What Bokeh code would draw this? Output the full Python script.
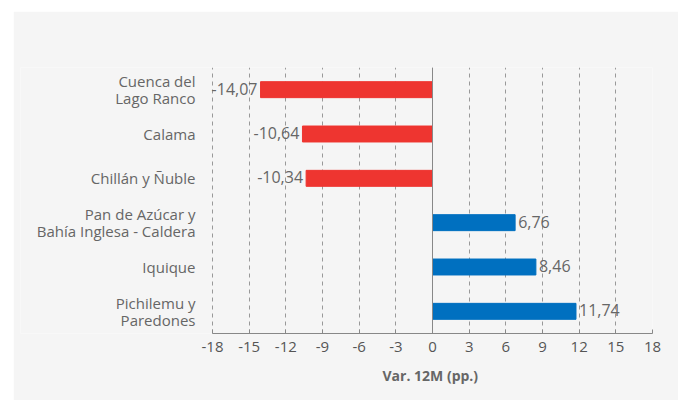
from bokeh.plotting import figure
from bokeh.models import ColumnDataSource, FactorRange, Span, Spacer, FixedTicker, LabelSet, Title
from bokeh.core.properties import value
from bokeh.layouts import row, column
from bokeh.embed import file_html
from bokeh.resources import INLINE

categories = ["Cuenca del\nLago Ranco", "Calama", "Chillán y Ñuble",
              "Pan de Azúcar y\nBahía Inglesa - Caldera", "Iquique", "Pichilemu y\nParedones"]
values = [-14.07, -10.64, -10.34, 6.76, 8.46, 11.74]
value_labels = ["-14,07", "-10,64", "-10,34", "6,76", "8,46", "11,74"]
x_ticks = [-18, -15, -12, -9, -6, -3, 0, 3, 6, 9, 12, 15, 18]
x_tick_labels = ["-18", "-15", "-12", "-9", "-6", "-3", "0", "3", "6", "9", "12", "15", "18"]
x_title = "Var. 12M (pp.)"

RED = "#ee3530"
BLUE = "#0070c0"
BG = "#f5f5f5"
FONT = "Open Sans"
LINE_H = 16.5

X_MIN, X_MAX = -18, 18
PX_PER_UNIT = 440 / (X_MAX - X_MIN)
FRAME_W = 632
x_start = X_MAX - FRAME_W / PX_PER_UNIT   # room on the left for category labels

colors = [RED if v < 0 else BLUE for v in values]
src = ColumnDataSource(dict(
    cat=categories, val=values, lab=value_labels, color=colors,
    lx=[v - 0.25 if v < 0 else v + 0.25 for v in values],
    align=["right" if v < 0 else "left" for v in values],
))

# one entry per text line of each category label, so every line is right-aligned
line_cat, line_txt, line_off = [], [], []
for c in categories:
    parts = c.split("\n")
    n = len(parts)
    for i, t in enumerate(parts):
        line_cat.append(c)
        line_txt.append(t)
        line_off.append(((n - 1) / 2 - i) * LINE_H)
cat_src = ColumnDataSource(dict(cat=line_cat, txt=line_txt, off=line_off,
                                x=[X_MIN - 17 / PX_PER_UNIT] * len(line_cat)))

factors = list(reversed(categories))
p = figure(width=665, height=389, output_backend="svg", toolbar_location=None,
           x_range=(x_start, X_MAX), y_range=FactorRange(factors=factors),
           background_fill_color=BG, border_fill_color=BG, outline_line_color=None,
           min_border_left=7, min_border_right=26, min_border_top=56, min_border_bottom=67)

p.hbar(y="cat", left=0, right="val", height=0.36, color="color", source=src)

p.add_layout(LabelSet(x="lx", y="cat", text="lab", source=src, text_align="align",
                      text_baseline="middle", text_font=value(FONT), text_font_size="16px",
                      text_color="#666666", y_offset=1))

p.add_layout(LabelSet(x="x", y="cat", text="txt", source=cat_src, y_offset="off",
                      text_align="right", text_baseline="middle", text_font=value(FONT),
                      text_font_size="15px", text_color="#666666"))

p.add_layout(Span(location=0, dimension="height", line_color="#888888", line_width=1))

p.xgrid.ticker = FixedTicker(ticks=x_ticks)
p.xgrid.bounds = (X_MIN, X_MAX)
p.xgrid.grid_line_color = "#999999"
p.xgrid.grid_line_dash = "4 4"
p.xgrid.grid_line_width = 1
p.ygrid.grid_line_color = None

p.xaxis.ticker = FixedTicker(ticks=x_ticks)
p.xaxis.bounds = (X_MIN, X_MAX)
p.xaxis.major_label_overrides = {t: s for t, s in zip(x_ticks, x_tick_labels)}
p.xaxis.axis_line_color = "#888888"
p.xaxis.major_tick_line_color = "#888888"
p.xaxis.major_tick_in = 4
p.xaxis.major_tick_out = 0
p.xaxis.minor_tick_line_color = None
p.xaxis.major_label_text_font = FONT
p.xaxis.major_label_text_font_size = "15px"
p.xaxis.major_label_text_color = "#555555"
p.xaxis.major_label_standoff = 8

p.yaxis.visible = False

p.add_layout(Title(text=x_title, align="left", offset=(0 - x_start) * PX_PER_UNIT - 50,
                   text_font=FONT, text_font_size="14px", text_font_style="bold",
                   text_color="#666666", standoff=18), "below")

layout = row(Spacer(width=13), column(Spacer(height=11), p))

open("out.html", "w").write(file_html(layout, INLINE))
